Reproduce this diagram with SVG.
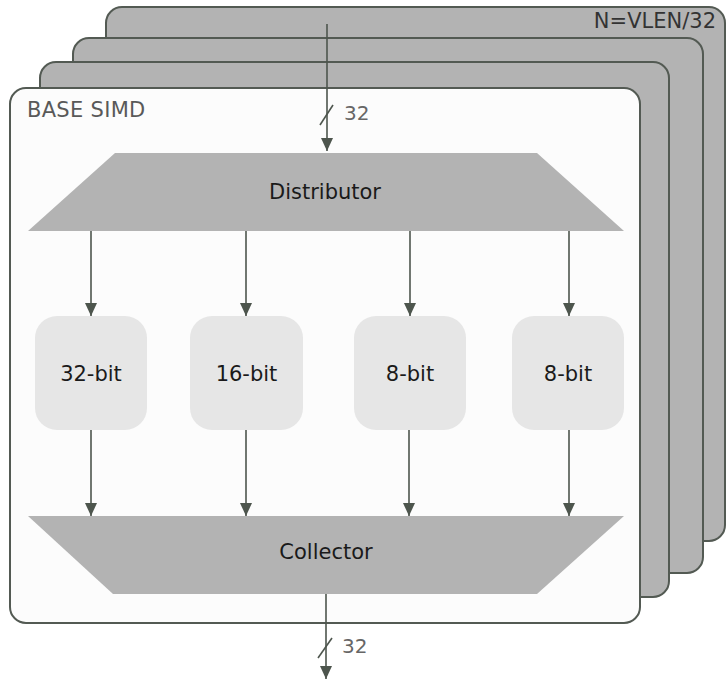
<svg xmlns="http://www.w3.org/2000/svg" width="726" height="682" viewBox="0 0 726 682">
<defs>
<style>
.panel{fill:#b3b3b3;stroke:#535a53;stroke-width:2}
.front{fill:#fcfcfc;stroke:#535a53;stroke-width:2}
.trap{fill:#b3b3b3}
.unit{fill:#e6e6e6}
.lbl{font-family:"DejaVu Sans",Verdana,sans-serif;font-size:21px;fill:#1a1a1a;text-anchor:middle}
.conn{stroke:#4d554d;stroke-width:1.6;fill:none}
.bus{font-family:"DejaVu Sans",Verdana,sans-serif;font-size:20px;fill:#666}
</style>
<marker id="ah" markerWidth="14" markerHeight="12" refX="13" refY="6" orient="auto" markerUnits="userSpaceOnUse">
<path d="M0,0 L13,6 L0,12 Z" fill="#4d554d"/>
</marker>
</defs>
<g id="panel-3"><rect class="panel" x="106" y="7" width="619" height="534" rx="16"/></g>
<g id="panel-2"><rect class="panel" x="73" y="38" width="630" height="535" rx="16"/></g>
<g id="panel-1"><rect class="panel" x="40" y="62" width="629" height="535" rx="16"/></g>
<g id="base-simd"><rect class="front" x="10" y="88" width="630" height="535" rx="16"/>
<text x="27" y="117" style="font-family:'DejaVu Sans',Verdana,sans-serif;font-size:21px;letter-spacing:0.3px;fill:#595959">BASE SIMD</text></g>
<text x="716" y="28" style="font-family:'DejaVu Sans',Verdana,sans-serif;font-size:21px;fill:#333;text-anchor:end">N=VLEN/32</text>
<g id="distributor"><polygon class="trap" points="115,153 537,153 624,231 28,231"/>
<text class="lbl" x="325" y="199">Distributor</text></g>
<g id="u32"><rect class="unit" x="35" y="316" width="112" height="114" rx="22"/><text class="lbl" x="91" y="381">32-bit</text></g>
<g id="u16"><rect class="unit" x="190" y="316" width="113" height="114" rx="22"/><text class="lbl" x="246.5" y="381">16-bit</text></g>
<g id="u8a"><rect class="unit" x="354" y="316" width="112" height="114" rx="22"/><text class="lbl" x="410" y="381">8-bit</text></g>
<g id="u8b"><rect class="unit" x="512" y="316" width="112" height="114" rx="22"/><text class="lbl" x="568" y="381">8-bit</text></g>
<g id="collector"><polygon class="trap" points="28,516 624,516 537,594 113,594"/>
<text class="lbl" x="326" y="559">Collector</text></g>
<g id="connectors">
<line class="conn" x1="327" y1="24" x2="327" y2="151" marker-end="url(#ah)"/>
<line class="conn" x1="320" y1="125" x2="333" y2="105"/>
<text class="bus" x="344" y="120">32</text>
<line class="conn" x1="91" y1="231" x2="91" y2="316" marker-end="url(#ah)"/>
<line class="conn" x1="246" y1="231" x2="246" y2="316" marker-end="url(#ah)"/>
<line class="conn" x1="410" y1="231" x2="410" y2="316" marker-end="url(#ah)"/>
<line class="conn" x1="569" y1="231" x2="569" y2="316" marker-end="url(#ah)"/>
<line class="conn" x1="91" y1="430" x2="91" y2="516" marker-end="url(#ah)"/>
<line class="conn" x1="246" y1="430" x2="246" y2="516" marker-end="url(#ah)"/>
<line class="conn" x1="409" y1="430" x2="409" y2="516" marker-end="url(#ah)"/>
<line class="conn" x1="569" y1="430" x2="569" y2="516" marker-end="url(#ah)"/>
<line class="conn" x1="326" y1="594" x2="326" y2="679" marker-end="url(#ah)"/>
<line class="conn" x1="318" y1="658" x2="332" y2="638"/>
<text class="bus" x="342" y="653">32</text>
</g>
</svg>
